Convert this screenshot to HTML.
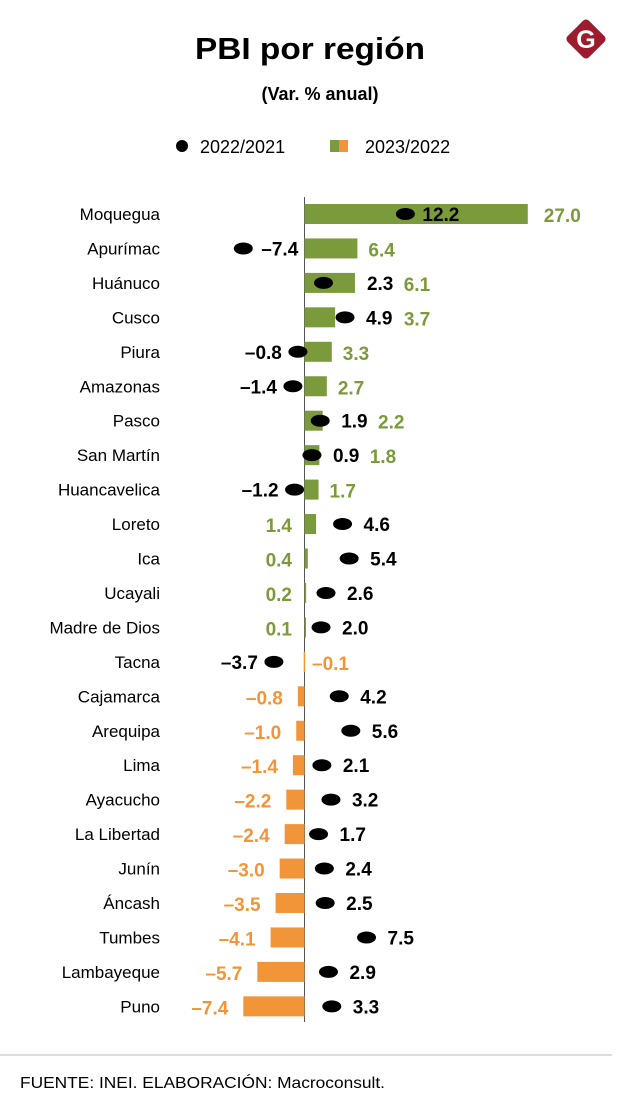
<!DOCTYPE html>
<html><head><meta charset="utf-8"><style>
body{margin:0;background:#fff;width:620px;height:1114px;overflow:hidden;font-family:"Liberation Sans",sans-serif}
svg text{font-family:"Liberation Sans",sans-serif}
</style></head><body>
<svg id="chart" width="620" height="1114" viewBox="0 0 620 1114" xmlns="http://www.w3.org/2000/svg">
<text x="310" y="59" text-anchor="middle" font-size="31" font-weight="bold" fill="#000" textLength="230" lengthAdjust="spacingAndGlyphs">PBI por región</text>
<text x="320" y="100" text-anchor="middle" font-size="18" font-weight="bold" fill="#000">(Var. % anual)</text>
<g>
<rect x="571" y="24" width="30" height="30" rx="4" fill="#9c1b2c" transform="rotate(45 586 39)"/>
<text x="586" y="48" text-anchor="middle" font-size="25" font-weight="bold" fill="#fff">G</text>
</g>
<g>
<ellipse cx="182" cy="146" rx="6" ry="6" fill="#000"/>
<text x="200" y="153" font-size="18" fill="#000">2022/2021</text>
<rect x="330" y="140" width="9" height="12" fill="#7b9a3c"/>
<rect x="339" y="140" width="9" height="12" fill="#f29539"/>
<text x="365" y="153" font-size="18" fill="#000">2023/2022</text>
</g>
<line x1="304.5" y1="197" x2="304.5" y2="1022" stroke="#555" stroke-width="1"/>
<g id="rows"></g>
<line x1="0" y1="1055" x2="612" y2="1055" stroke="#ddd" stroke-width="2"/>
<text x="20" y="1088" font-size="16" fill="#000" textLength="365" lengthAdjust="spacingAndGlyphs">FUENTE: INEI.    ELABORACIÓN: Macroconsult.</text>
</svg>
<script>
const regions=["Moquegua","Apurímac","Huánuco","Cusco","Piura","Amazonas","Pasco","San Martín","Huancavelica","Loreto","Ica","Ucayali","Madre de Dios","Tacna","Cajamarca","Arequipa","Lima","Ayacucho","La Libertad","Junín","Áncash","Tumbes","Lambayeque","Puno"];
const var2022=[12.2,-7.4,2.3,4.9,-0.8,-1.4,1.9,0.9,-1.2,4.6,5.4,2.6,2.0,-3.7,4.2,5.6,2.1,3.2,1.7,2.4,2.5,7.5,2.9,3.3];
const var2023=[27.0,6.4,6.1,3.7,3.3,2.7,2.2,1.8,1.7,1.4,0.4,0.2,0.1,-0.1,-0.8,-1.0,-1.4,-2.2,-2.4,-3.0,-3.5,-4.1,-5.7,-7.4];
const x0=304.5,k=8.27,yTop=214,pitch=34.45;
const xs=v=>x0+v*k, ys=i=>yTop+i*pitch;
const G=document.getElementById('rows'),NS="http://www.w3.org/2000/svg";
function mk(t,a){const e=document.createElementNS(NS,t);for(const n in a)e.setAttribute(n,a[n]);G.appendChild(e);return e;}
const fmt=v=>(v<0?"–":"")+Math.abs(v).toFixed(1);
const tw=s=>s.length*9.6;
regions.forEach((r,i)=>{
 const y=ys(i),d=var2022[i],b=var2023[i],dx=xs(d),bx=xs(b);
 const lab=mk('text',{x:160,y:y+6,'text-anchor':'end','font-size':17,fill:'#000'});lab.textContent=r;
 
 
 const col=b>=0?'#7b9a3c':'#f29539';
 const bar=mk('rect',{x:Math.min(bx,x0),y:y-10,width:Math.max(Math.abs(bx-x0),1.5),height:20,fill:col});
 
 
 const dot=mk('ellipse',{cx:dx,cy:y,rx:9.5,ry:6,fill:'#000'});
 
 
 // dot label
 let dlx,anchor='start';
 if(d>=0){dlx=(b>d+5)?dx+17:Math.max(dx+9,b>0?bx:0)+12;}
 else if(b>0&&d<-5){dlx=dx+18;}
 else{dlx=dx-16;anchor='end';}
 const dl=mk('text',{x:dlx,y:y+7,'text-anchor':anchor,'font-size':19,'font-weight':'bold',fill:'#000'});dl.textContent=fmt(d);
 
 
 // bar label
 let blx,ba='start';
 if(b>=0){
  if(d>=0&&b>d+5)blx=bx+16;
  else if(d>=0&&b>d)blx=Math.max(bx+16,dlx+tw(fmt(d))+8);
  else if(d<0)blx=bx+11;
  else if(b>=1.5)blx=dlx+tw(fmt(d))+9;
  else{blx=292;ba='end';}
 }else{
  if(d<0)blx=312;else{blx=bx-15;ba='end';}
 }
 const bl=mk('text',{x:blx,y:y+8,'text-anchor':ba,'font-size':19,'font-weight':'bold',fill:col});bl.textContent=fmt(b);
 
 
});
</script>
</body></html>
